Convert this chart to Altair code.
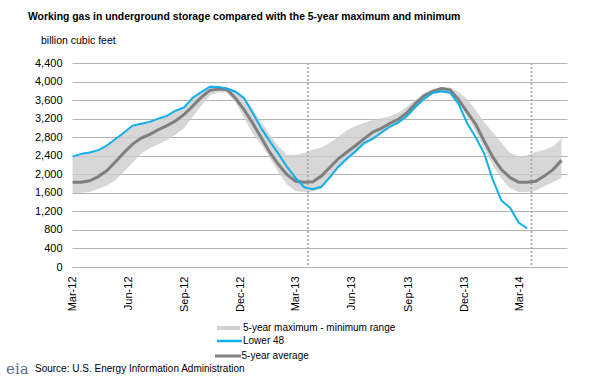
import altair as alt
import pandas as pd

# ---------------- data ----------------
dates = pd.date_range("2012-03-02", periods=58, freq="14D")

lower48 = [2380, 2440, 2470, 2520, 2620, 2760, 2900, 3050, 3090, 3130,
           3200, 3260, 3370, 3440, 3650, 3770, 3890, 3880, 3850, 3780,
           3640, 3320, 2990, 2710, 2440, 2160, 1920, 1720, 1680, 1730,
           1940, 2170, 2340, 2500, 2680, 2770, 2900, 3030, 3120, 3260,
           3460, 3630, 3760, 3790, 3760, 3520, 3100, 2800, 2440, 1880,
           1430, 1280, 960, 830]

avg5 = [1830, 1830, 1860, 1950, 2080, 2270, 2470, 2650, 2780, 2860,
        2960, 3050, 3150, 3290, 3470, 3660, 3810, 3840, 3830, 3640,
        3390, 3100, 2790, 2470, 2210, 1990, 1850, 1830, 1840, 1960,
        2150, 2340, 2480, 2620, 2770, 2910, 2990, 3100, 3190, 3330,
        3530, 3700, 3790, 3850, 3820, 3610, 3340, 3080, 2710, 2370,
        2100, 1930, 1830, 1830, 1850, 1960, 2100, 2300]

max5 = [2400, 2460, 2490, 2540, 2640, 2780, 2920, 3070, 3110, 3150,
        3220, 3280, 3390, 3460, 3670, 3790, 3910, 3900, 3870, 3800,
        3660, 3400, 3130, 2850, 2600, 2420, 2420, 2460, 2530, 2580,
        2680, 2810, 2950, 3040, 3110, 3170, 3210, 3250, 3330, 3460,
        3610, 3740, 3840, 3890, 3870, 3770, 3630, 3380, 3120, 2900,
        2680, 2460, 2390, 2410, 2480, 2530, 2600, 2770]

min5 = [1590, 1600, 1620, 1690, 1760, 1870, 2060, 2250, 2450, 2560,
        2650, 2740, 2850, 2990, 3240, 3480, 3700, 3770, 3760, 3550,
        3220, 2880, 2640, 2350, 2040, 1780, 1640, 1610, 1630, 1690,
        1900, 2120, 2300, 2450, 2630, 2730, 2860, 2990, 3090, 3220,
        3420, 3590, 3730, 3760, 3730, 3560, 3260, 2920, 2550, 2190,
        1910, 1700, 1620, 1610, 1650, 1740, 1830, 1920]

marker_dates = ["2013-03-21", "2014-03-21"]

y_ticks = list(range(0, 4401, 400))

title_text = "Working gas in underground storage compared with the 5-year maximum and minimum"
unit_text = "billion cubic feet"
legend_labels = ["5-year maximum - minimum range", "Lower 48", "5-year average"]
source_text = "Source:  U.S. Energy Information Administration"

# ---------------- tables ----------------
band_df = pd.DataFrame({"date": dates, "avg": avg5, "max": max5, "min": min5})
blue_df = pd.DataFrame({"date": dates[:len(lower48)], "value": lower48})
marker_df = pd.DataFrame({"date": pd.to_datetime(marker_dates)})

FONT = "Liberation Sans"
W, H = 495, 204

x_scale = alt.Scale(domain=[alt.DateTime(year=2012, month=3, date=1),
                            alt.DateTime(year=2014, month=5, date=18)])
y_scale = alt.Scale(domain=[0, 4400], nice=False)

tick_dates = []
for yr in (2012, 2013, 2014):
    for m in (3, 6, 9, 12):
        if (yr, m) <= (2014, 3):
            tick_dates.append(alt.DateTime(year=yr, month=m, date=1))

x_axis = alt.Axis(values=tick_dates, format="%b-%y", labelAngle=270,
                  title=None, grid=False, domain=False, ticks=False,
                  labelPadding=9, labelFontSize=11, labelColor="#000",
                  labelFont=FONT, labelOverlap=False)
y_axis = alt.Axis(values=y_ticks, format=",d", title=None, domain=False,
                  ticks=False, labelPadding=10, labelFontSize=11,
                  labelColor="#000", labelFont=FONT, grid=True,
                  gridColor="#b4b4b4", gridWidth=1, gridOpacity=1,
                  labelOverlap=False)

band = alt.Chart(band_df).mark_area(color="#cdcdcd", opacity=0.8).encode(
    x=alt.X("date:T", scale=x_scale, axis=x_axis),
    y=alt.Y("min:Q", scale=y_scale, axis=y_axis),
    y2="max:Q",
)

markers = alt.Chart(marker_df).mark_rule(color="#b0b0b0", strokeWidth=2,
                                         strokeDash=[2, 2]).encode(
    x=alt.X("date:T", scale=x_scale, axis=x_axis),
    y=alt.value(0),
    y2=alt.value(H),
)

avg_line = alt.Chart(band_df).mark_line(color="#7f7f7f", strokeWidth=3).encode(
    x=alt.X("date:T", scale=x_scale, axis=x_axis),
    y=alt.Y("avg:Q", scale=y_scale, axis=y_axis),
)

blue_line = alt.Chart(blue_df).mark_line(color="#10b0ec", strokeWidth=2).encode(
    x=alt.X("date:T", scale=x_scale, axis=x_axis),
    y=alt.Y("value:Q", scale=y_scale, axis=y_axis),
)


def txt(s, x, y, size=10, bold=False, color="#000", font=FONT):
    return alt.Chart(pd.DataFrame({"t": [s]})).mark_text(
        align="left", baseline="middle", fontSize=size, font=font,
        fontWeight="bold" if bold else "normal", color=color,
    ).encode(x=alt.value(x), y=alt.value(y), text="t:N")


def swatch(x1, x2, y, color, width):
    return alt.Chart(pd.DataFrame({"t": [0]})).mark_rule(
        color=color, strokeWidth=width).encode(
        x=alt.value(x1), x2=alt.value(x2), y=alt.value(y))


layers = [
    band, markers, avg_line, blue_line,
    txt(title_text, -44, -46, size=10.4, bold=True),
    txt(unit_text, -31, -22, size=10.5),
    swatch(145, 168, 265, "#d2d2d2", 4),
    txt(legend_labels[0], 171, 265),
    swatch(145, 170, 278, "#10b0ec", 2.5),
    txt(legend_labels[1], 171, 278),
    swatch(143, 169, 293, "#808080", 3),
    txt(legend_labels[2], 169.5, 293),
    txt("eia", -66, 306, size=15, color="#5a6f8e", font="DejaVu Serif"),
    txt(source_text, -37, 305.5),
]

chart = alt.layer(*layers).properties(
    width=W, height=H,
    autosize=alt.AutoSizeParams(type="none"),
    padding={"left": 72, "top": 63, "right": 23, "bottom": 124},
    background="white",
).configure_view(stroke=None).configure_axis(grid=True)

chart.save("out.html", embed_options={"renderer": "svg", "actions": False})
